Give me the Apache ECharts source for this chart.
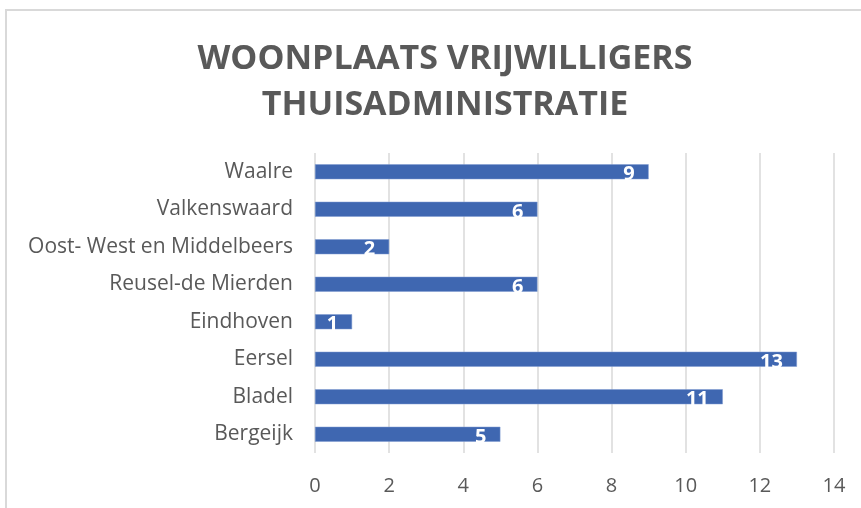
<!DOCTYPE html>
<html>
<head>
<meta charset="utf-8">
<script src="https://cdn.jsdelivr.net/npm/echarts@6/dist/echarts.min.js"></script>
<style>
  html, body { margin: 0; padding: 0; background: #fff; }
  #frame { position: absolute; left: 5px; top: 9px; width: 870px; height: 510px; border: 2px solid #d9d9d9; box-sizing: border-box; }
  #chart { position: absolute; left: 0; top: 0; width: 861px; height: 508px; }
</style>
</head>
<body>
<div id="frame"></div>
<div id="chart"></div>
<script>
// woonplaatsen (van onder naar boven zoals in de grafiek)
const plaatsen = ['Bergeijk', 'Bladel', 'Eersel', 'Eindhoven', 'Reusel-de Mierden', 'Oost- West en Middelbeers', 'Valkenswaard', 'Waalre']
const aantallen = [5, 11, 13, 1, 6, 2, 6, 9]
const titel = 'WOONPLAATS VRIJWILLIGERS\nTHUISADMINISTRATIE'

const chart = echarts.init(document.getElementById('chart'))
chart.setOption({
  animation: false,
  title: {
    text: titel,
    left: 440,
    textAlign: 'center',
    top: 31,
    textStyle: {
      color: '#595959',
      fontFamily: 'Open Sans',
      fontWeight: 'bold',
      fontSize: 34,
      lineHeight: 46
    }
  },
  grid: {
    left: 315,
    right: 27,
    top: 153,
    bottom: 55
  },
  xAxis: {
    type: 'value',
    min: 0,
    max: 14,
    interval: 2,
    axisLine: { show: false },
    axisTick: { show: false },
    axisLabel: {
      color: '#595959',
      fontSize: 20,
      fontFamily: 'Open Sans',
      margin: 23
    },
    splitLine: {
      lineStyle: { color: '#d9d9d9', width: 1.5 }
    }
  },
  yAxis: {
    type: 'category',
    data: plaatsen,
    axisLine: { show: false },
    axisTick: { show: false },
    axisLabel: {
      color: '#595959',
      fontSize: 21,
      fontFamily: 'Open Sans',
      margin: 22
    }
  },
  series: [{
    type: 'bar',
    data: aantallen,
    barWidth: 15,
    itemStyle: {
      color: '#3f67b1',
      borderColor: '#7f9bd0',
      borderWidth: 0.5
    },
    label: {
      show: true,
      position: 'insideRight',
      color: '#fff',
      fontWeight: 'bold',
      fontSize: 20,
      fontFamily: 'Open Sans',
      distance: 14,
      offset: [0, 3]
    }
  }]
})
</script>
</body>
</html>
